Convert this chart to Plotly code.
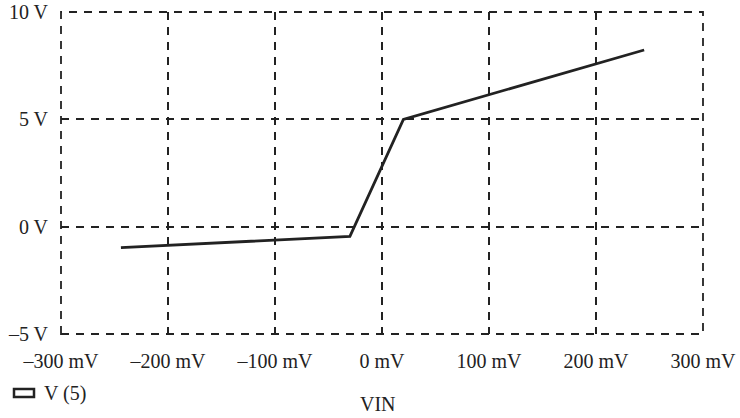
import plotly.graph_objects as go

# Data (VIN in mV, V(5) in V)
vin_mv = [-244, -30, 20, 245]
v5 = [-0.98, -0.45, 5.0, 8.23]

x_tickvals = [-300, -200, -100, 0, 100, 200, 300]
x_ticktext = ["–300 mV", "–200 mV", "–100 mV", "0 mV", "100 mV", "200 mV", "300 mV"]
y_tickvals = [-5, 0, 5, 10]
y_ticktext = ["–5 V", "0 V", "5 V", "10 V"]

FONT = "Liberation Serif"
FS = 20
INK = "#222222"

fig = go.Figure()
fig.add_trace(go.Scatter(
    x=vin_mv, y=v5, mode="lines", name="V (5)",
    line=dict(color=INK, width=2.8), showlegend=False,
))

DASH = "8px,7px"
grid = dict(showgrid=True, gridcolor=INK, gridwidth=1.8, griddash=DASH,
            zeroline=False, showline=False, ticks="", automargin=False,
            tickfont=dict(family=FONT, size=FS, color=INK))

L, R, T, B = 61, 37, 12, 84
PW, PH = 740 - L - R, 418 - T - B

fig.update_layout(
    width=740, height=418,
    margin=dict(l=L, r=R, t=T, b=B),
    paper_bgcolor="white", plot_bgcolor="white",
    xaxis=dict(range=[-300, 300], tickvals=x_tickvals, ticktext=x_ticktext,
               ticklabelstandoff=13, **grid),
    yaxis=dict(range=[-5, 10], tickvals=y_tickvals, ticktext=y_ticktext,
               ticklabelstandoff=12, **grid),
    shapes=[
        dict(type="rect", xref="paper", yref="paper", x0=0, x1=1, y0=0, y1=1,
             line=dict(color=INK, width=1.8, dash=DASH), layer="below"),
        dict(type="rect", xref="paper", yref="paper",
             x0=(14 - L) / PW, x1=(34 - L) / PW,
             y0=-(389 - (418 - B)) / PH, y1=-(397 - (418 - B)) / PH,
             line=dict(color=INK, width=2.5)),
    ],
    annotations=[
        dict(text="V (5)", xref="paper", yref="paper",
             x=(42 - L) / PW, y=-(393 - (418 - B)) / PH,
             xanchor="left", yanchor="middle", showarrow=False,
             font=dict(family=FONT, size=FS, color=INK)),
        dict(text="VIN", xref="paper", yref="paper",
             x=(378 - L) / PW, y=-(404 - (418 - B)) / PH,
             xanchor="center", yanchor="middle", showarrow=False,
             font=dict(family=FONT, size=FS, color=INK)),
    ],
)

fig.write_html("out.html", config={"displayModeBar": False},
               post_script="document.body.style.margin='0';")
